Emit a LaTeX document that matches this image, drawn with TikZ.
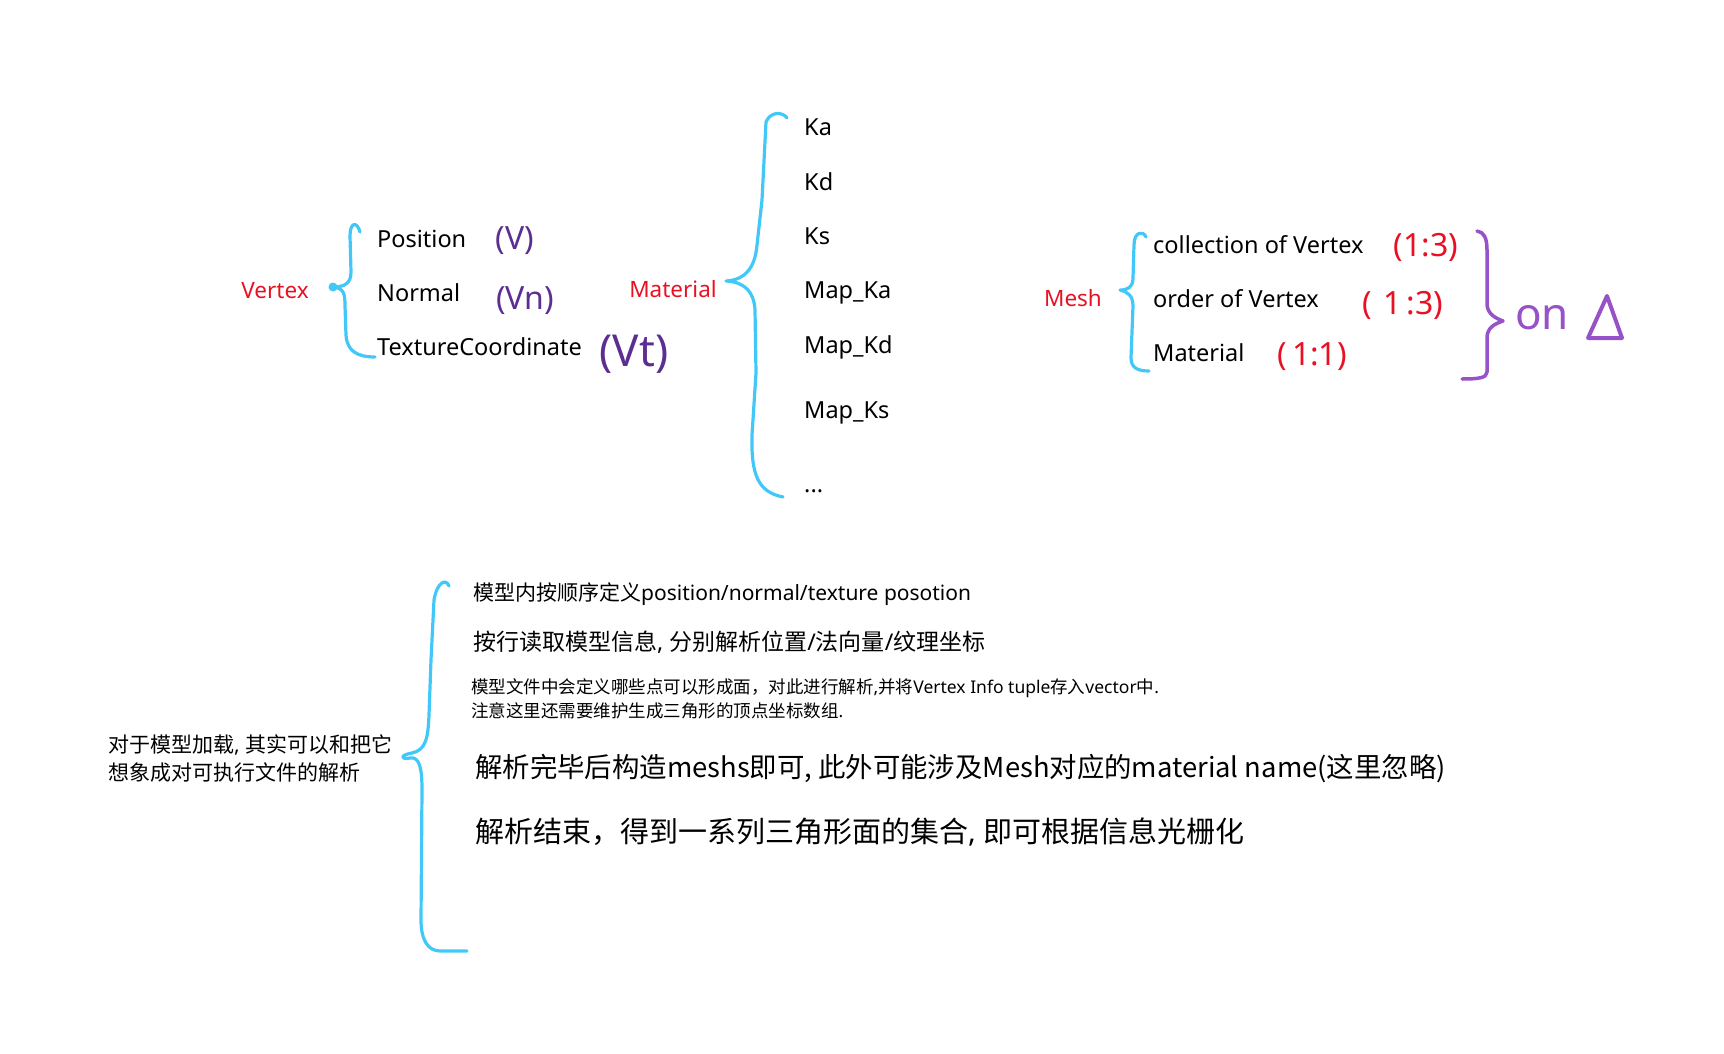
\documentclass[tikz,border=0pt]{standalone}
\usepackage{fontspec}
\setmainfont{Noto Sans}
\newfontfamily\cjk{Noto Sans CJK SC}
\usepackage{tikz}
\definecolor{inkcyan}{RGB}{66,200,248}
\definecolor{inkred}{RGB}{232,17,35}
\definecolor{inkplum}{RGB}{92,46,145}
\definecolor{inkviolet}{RGB}{152,82,200}
\newcommand{\fsz}[2]{\fontsize{#1}{#2}\selectfont}
\newcommand{\zh}[1]{{\cjk #1}}
\tikzset{
  inkbrace/.style={inkcyan,line width=3.2pt,line cap=round,line join=round},
  item/.style={anchor=west,inner sep=0pt,font=\fsz{23.5}{28}},
  tag/.style={inkred,inner sep=0pt,font=\fsz{22.5}{27}},
  scrawl/.style={inner sep=0pt,font=\bfseries\fsz{32}{36}},
  note/.style={anchor=west,inner sep=0pt,align=left}
}

\begin{document}
\begin{tikzpicture}[x=1pt,y=-1pt]
  \useasboundingbox (0,0) rectangle (1724,1054);
  % vertex
  \node[tag] (vtx) at (275,291) {Vertex};
  \draw[inkbrace] (360,232) .. controls (357,221) and (350,222) .. (350,236) -- (351,272)
    .. controls (351,283) and (345,287) .. (333,287) .. controls (344,288) and (345,294) .. (345,306)
    -- (346,335) .. controls (347,351) and (357,357) .. (375,357);
  \fill[inkcyan] (333,287) circle (4.5);
  \node[item] (pos) at (377,239) {Position};
  \node[item] (nrm) at (377,293) {Normal};
  \node[item] (tex) at (377,347) {TextureCoordinate};
  \node[scrawl,inkplum] (vpos) at (515,241) {(V)};
  \node[scrawl,inkplum] (vnrm) at (525,301) {(Vn)};
  \node[scrawl,inkplum,font=\bfseries\fsz{44}{48}] (vtex) at (634,354) {(Vt)};
  % material
  \node[tag] (mat) at (673,289) {Material};
  \draw[inkbrace] (787,118) .. controls (782,111) and (770,112) .. (766,122) -- (762,200)
    -- (757,245) .. controls (755,268) and (745,280) .. (726,281) .. controls (745,282) and (754,292) .. (755,310)
    -- (756,373) -- (752,435) .. controls (751,475) and (758,492) .. (783,497);
  \node[item] (ka) at (804,127) {Ka};
  \node[item] (kd) at (804,182) {Kd};
  \node[item] (ks) at (804,236) {Ks};
  \node[item] (mka) at (804,293) {Map\_Ka};
  \node[item] (mkd) at (804,347) {Map\_Kd};
  \node[item] (mks) at (804,413) {Map\_Ks};
  \node[item] (etc) at (804,491) {...};
  % mesh
  \node[tag] (mesh) at (1073,298) {Mesh};
  \draw[inkbrace] (1146,237) .. controls (1143,230) and (1134,232) .. (1134,245) -- (1133,278)
    .. controls (1133,287) and (1128,290) .. (1120,290) .. controls (1128,292) and (1133,296) .. (1133,306)
    -- (1131,358) .. controls (1131,368) and (1138,371) .. (1149,371);
  \node[item] (col) at (1153,245) {collection of Vertex};
  \node[item] (ord) at (1153,299) {order of Vertex};
  \node[item] (mmat) at (1153,353) {Material};
  \node[scrawl,inkred] (rcol) at (1426,247) {(1:3)};
  \node[scrawl,inkred] (rord) at (1403,305) {(\,\,1\,:3)};
  \node[scrawl,inkred] (rmat) at (1312,357) {(\,1:1)};
  \draw[inkviolet,line width=3.5pt,line cap=round,line join=round] (1477,231) .. controls (1484,232) and (1487,238) .. (1487,250)
    -- (1487,305) .. controls (1488,314) and (1495,318) .. (1503,321) .. controls (1494,324) and (1487,328) .. (1487,338)
    -- (1487,372) .. controls (1487,378) and (1478,379) .. (1462,379);
  \node[scrawl,inkviolet,font=\fsz{44}{48}] (on) at (1542,318) {on};
  \draw[inkviolet,line width=4pt,line join=round] (1607,296) -- (1588,338) -- (1622,338) -- cycle;
  % loading
  \node[note,font=\fsz{21}{28}] (load) at (108,759) {\zh{对于模型加载}, \zh{其实可以和把它}\\\zh{想象成对可执行文件的解析}};
  \draw[inkbrace] (449,586) .. controls (446,578) and (437,582) .. (434,600) -- (431,660)
    -- (429,715) .. controls (428,738) and (426,750) .. (412,753) .. controls (400,755) and (400,760) .. (410,758)
    .. controls (420,756) and (422,770) .. (422,790) -- (421,920) .. controls (421,940) and (428,951) .. (440,951) -- (467,951);
  \node[note,font=\fsz{21}{24}] (s1) at (473,594) {\zh{模型内按顺序定义}position/normal/texture posotion};
  \node[note,font=\fsz{23}{28}] (s2) at (473,642) {\zh{按行读取模型信息}, \zh{分别解析位置}/\zh{法向量}/\zh{纹理坐标}};
  \node[note,font=\fsz{17.5}{24}] (s3) at (471,699) {\zh{模型文件中会定义哪些点可以形成面，对此进行解析},\zh{并将}Vertex Info tuple\zh{存入}vector\zh{中}.\\\zh{注意这里还需要维护生成三角形的顶点坐标数组}.};
  \node[note,font=\cjk\fsz{27.4}{34}] (s4) at (475,769) {解析完毕后构造meshs即可, 此外可能涉及Mesh对应的material name(这里忽略)};
  \node[note,font=\fsz{29}{34}] (s5) at (475,832) {\zh{解析结束，得到一系列三角形面的集合}, \zh{即可根据信息光栅化}};
\end{tikzpicture}
\end{document}
